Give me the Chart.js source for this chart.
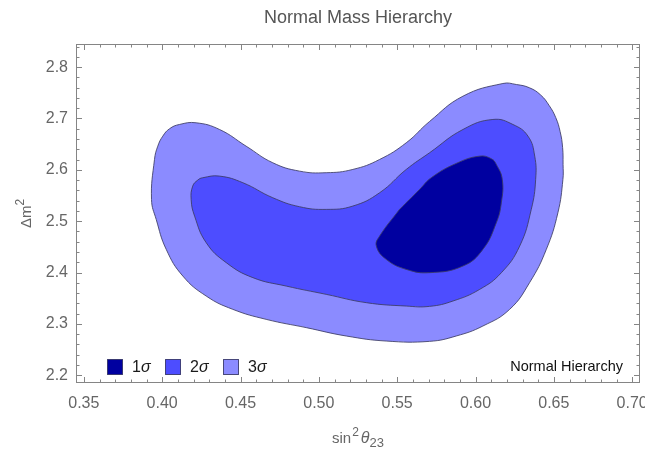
<!DOCTYPE html>
<html>
<head>
<meta charset="utf-8">
<script src="https://cdn.jsdelivr.net/npm/chart.js@4.4.0/dist/chart.umd.min.js"></script>
<style>
  html, body { margin: 0; padding: 0; background: #fff; }
</style>
</head>
<body>
<canvas id="myChart" width="645" height="453"></canvas>
<script>
// confidence contours in the (sin^2 theta23, delta m^2) plane, traced clockwise
// each loop starts on a nearly straight stretch so the closing joint stays smooth
var sigma1X = [0.5515, 0.5643, 0.5720, 0.5877, 0.6026, 0.6101, 0.6133, 0.6171, 0.6165, 0.6133, 0.6047, 0.5920, 0.5707, 0.5558, 0.5430, 0.5367, 0.5388];
var sigma1Y = [2.5230, 2.5619, 2.5852, 2.6125, 2.6267, 2.6216, 2.6105, 2.5813, 2.5360, 2.4971, 2.4451, 2.4127, 2.3998, 2.4062, 2.4257, 2.4516, 2.4710];

var sigma2X = [0.5047, 0.4792, 0.4579, 0.4409, 0.4281, 0.4207, 0.4185, 0.4195, 0.4227, 0.4259, 0.4366, 0.4515, 0.4706, 0.4877, 0.5047, 0.5217, 0.5388,
               0.5558, 0.5707, 0.5920, 0.6111, 0.6239, 0.6335, 0.6378, 0.6384, 0.6356, 0.6282, 0.6165, 0.6027, 0.5856, 0.5707, 0.5558, 0.5303];
var sigma2Y = [2.3576, 2.3737, 2.3901, 2.4193, 2.4582, 2.5099, 2.5424, 2.5683, 2.5800, 2.5846, 2.5878, 2.5749, 2.5457, 2.5282, 2.5230, 2.5295, 2.5554,
               2.6008, 2.6333, 2.6786, 2.6981, 2.6883, 2.6656, 2.6267, 2.5813, 2.5230, 2.4516, 2.3997, 2.3673, 2.3446, 2.3342, 2.3348, 2.3414];

var sigma3X = [0.4920, 0.4664, 0.4451, 0.4281, 0.4132, 0.4026, 0.3962, 0.3932, 0.3951, 0.3972, 0.4004, 0.4047, 0.4110, 0.4217, 0.4366,
               0.4536, 0.4706, 0.4877, 0.5047, 0.5217, 0.5388, 0.5558, 0.5707, 0.5920, 0.6175, 0.6261, 0.6345, 0.6416, 0.6470, 0.6512,
               0.6540, 0.6556, 0.6559, 0.6558, 0.6526, 0.6452, 0.6345, 0.6218, 0.6047, 0.5877, 0.5707, 0.5430, 0.5175];
var sigma3Y = [2.2928, 2.3089, 2.3284, 2.3543, 2.3932, 2.4451, 2.5035, 2.5424, 2.6202, 2.6461, 2.6656, 2.6800, 2.6883, 2.6916, 2.6786,
               2.6461, 2.6138, 2.5975, 2.5944, 2.6008, 2.6202, 2.6527, 2.6942, 2.7434, 2.7681, 2.7661, 2.7597, 2.7457, 2.7253, 2.7019,
               2.6747, 2.6436, 2.6105, 2.5813, 2.5165, 2.4451, 2.3803, 2.3284, 2.2959, 2.2765, 2.2661, 2.2667, 2.2765];

var levelLabels = ['1σ', '2σ', '3σ'];
var levelColors = ['#0000a0', '#4d4dff', '#8b8bff'];

var xTickValues = [0.35, 0.40, 0.45, 0.50, 0.55, 0.60, 0.65, 0.70];
var yTickValues = [2.2, 2.3, 2.4, 2.5, 2.6, 2.7, 2.8];

var FONT = '"Liberation Sans", Arial, Helvetica, sans-serif';

function loopPoints(xs, ys) {
    var pts = xs.map((x, i) => ({ x: x, y: ys[i] }));
    pts.push(pts[0]);
    return pts;
}

var contours = [[sigma1X, sigma1Y], [sigma2X, sigma2Y], [sigma3X, sigma3Y]];

// first dataset ends up on top, so 1 sigma goes first
var datasets = contours.map((c, i) => ({
    label: levelLabels[i],
    data: loopPoints(c[0], c[1]),
    showLine: true,
    tension: 0.45,
    fill: 'shape',
    backgroundColor: levelColors[i],
    borderColor: 'rgba(60, 60, 100, 0.85)',
    borderWidth: 1,
    pointRadius: 0
}));

// draws base text followed by a raised/lowered small part
function textRuns(ctx, runs, x, y) {
    runs.forEach(function (r) {
        ctx.font = (r.italic ? 'italic ' : '') + r.size + 'px ' + FONT;
        ctx.fillText(r.t, x, y + (r.dy || 0));
        x += ctx.measureText(r.t).width + (r.gap || 0);
    });
}

function runsWidth(ctx, runs) {
    var w = 0;
    runs.forEach(function (r) {
        ctx.font = (r.italic ? 'italic ' : '') + r.size + 'px ' + FONT;
        w += ctx.measureText(r.t).width + (r.gap || 0);
    });
    return w;
}

// frame with inward ticks on all four sides, plus the annotation text
const frameTicks = {
    id: 'frameTicks',
    afterDraw(chart) {
        const { ctx, chartArea: a, scales } = chart;
        const xs = scales.x, ys = scales.y;
        ctx.save();
        ctx.strokeStyle = '#858585';
        ctx.lineWidth = 1;
        ctx.strokeRect(a.left + 0.5, a.top + 0.5, a.right - a.left - 1, a.bottom - a.top - 1);
        ctx.beginPath();
        for (var k = 35; k <= 70; k++) {
            var px = Math.round(xs.getPixelForValue(k / 100)) + 0.5;
            var len = (k % 5 === 0) ? 6 : 3.5;
            ctx.moveTo(px, a.bottom); ctx.lineTo(px, a.bottom - len);
            ctx.moveTo(px, a.top); ctx.lineTo(px, a.top + len);
        }
        for (var j = 110; j <= 142; j++) {
            var py = Math.round(ys.getPixelForValue(j / 50)) + 0.5;
            var ylen = (j % 5 === 0) ? 6 : 3.5;
            ctx.moveTo(a.left, py); ctx.lineTo(a.left + ylen, py);
            ctx.moveTo(a.right, py); ctx.lineTo(a.right - ylen, py);
        }
        ctx.stroke();

        // title over the plot frame
        ctx.fillStyle = '#555';
        ctx.font = '18px ' + FONT;
        ctx.textAlign = 'center';
        ctx.textBaseline = 'middle';
        ctx.fillText('Normal Mass Hierarchy', (a.left + a.right) / 2, 18);

        // axis titles with super/subscripts
        ctx.textAlign = 'left';
        ctx.textBaseline = 'alphabetic';
        ctx.fillStyle = '#666';
        var xRuns = [
            { t: 'sin', size: 15, gap: 1 },
            { t: '2', size: 12, dy: -7, gap: 2 },
            { t: 'θ', size: 16, italic: true, gap: 0 },
            { t: '23', size: 13, dy: 4 }
        ];
        var xw = runsWidth(ctx, xRuns);
        textRuns(ctx, xRuns, (a.left + a.right) / 2 - xw / 2, 443);

        var yRuns = [
            { t: 'Δm', size: 15, gap: 0 },
            { t: '2', size: 12, dy: -7 }
        ];
        var yw = runsWidth(ctx, yRuns);
        ctx.save();
        ctx.translate(31, (a.top + a.bottom) / 2);
        ctx.rotate(-Math.PI / 2);
        textRuns(ctx, yRuns, -yw / 2, 0);
        ctx.restore();

        // legend boxes, lower left
        var lx = a.left + 31, ly = a.bottom - 24;
        ctx.textBaseline = 'middle';
        chart.data.datasets.forEach(function (ds, i) {
            ctx.fillStyle = ds.backgroundColor;
            ctx.fillRect(lx + 0.5, ly + 0.5, 15, 15);
            ctx.strokeStyle = 'rgba(40, 40, 90, 0.8)';
            ctx.strokeRect(lx + 0.5, ly + 0.5, 15, 15);
            var num = ds.label.charAt(0);
            ctx.fillStyle = '#1a1a1a';
            ctx.font = '16px ' + FONT;
            ctx.fillText(num, lx + 25, ly + 8.5);
            var w = ctx.measureText(num).width;
            ctx.font = 'italic 16px ' + FONT;
            ctx.fillText(ds.label.slice(1), lx + 25 + w, ly + 8.5);
            lx += 58;
        });

        ctx.fillStyle = '#111';
        ctx.font = '14.5px ' + FONT;
        ctx.textAlign = 'right';
        ctx.fillText('Normal Hierarchy', a.right - 17, a.bottom - 16.5);
        ctx.restore();
    }
};

const ctx = document.getElementById('myChart').getContext('2d');
const myChart = new Chart(ctx, {
    type: 'scatter',
    data: { datasets: datasets },
    options: {
        responsive: false,
        animation: false,
        devicePixelRatio: 1,
        layout: { padding: { top: 44, right: 5, left: 0, bottom: 0 } },
        plugins: {
            legend: { display: false },
            tooltip: { enabled: false }
        },
        scales: {
            x: {
                type: 'linear',
                min: 0.345,
                max: 0.705,
                afterBuildTicks: s => { s.ticks = xTickValues.map(v => ({ value: v })); },
                afterFit: s => { s.height = 70; s.paddingLeft = 0; s.paddingRight = 0; },
                grid: { display: false, drawTicks: false },
                border: { display: false },
                ticks: {
                    padding: 11,
                    color: '#666',
                    font: { family: FONT, size: 16 },
                    maxRotation: 0,
                    autoSkip: false,
                    callback: v => v.toFixed(2)
                }
            },
            y: {
                type: 'linear',
                min: 2.185,
                max: 2.845,
                afterBuildTicks: s => { s.ticks = yTickValues.map(v => ({ value: v })); },
                afterFit: s => { s.width = 76; s.paddingTop = 0; s.paddingBottom = 0; },
                grid: { display: false, drawTicks: false },
                border: { display: false },
                ticks: {
                    padding: 8,
                    color: '#666',
                    font: { family: FONT, size: 16 },
                    callback: v => v.toFixed(1)
                }
            }
        }
    },
    plugins: [frameTicks]
});
</script>
</body>
</html>
